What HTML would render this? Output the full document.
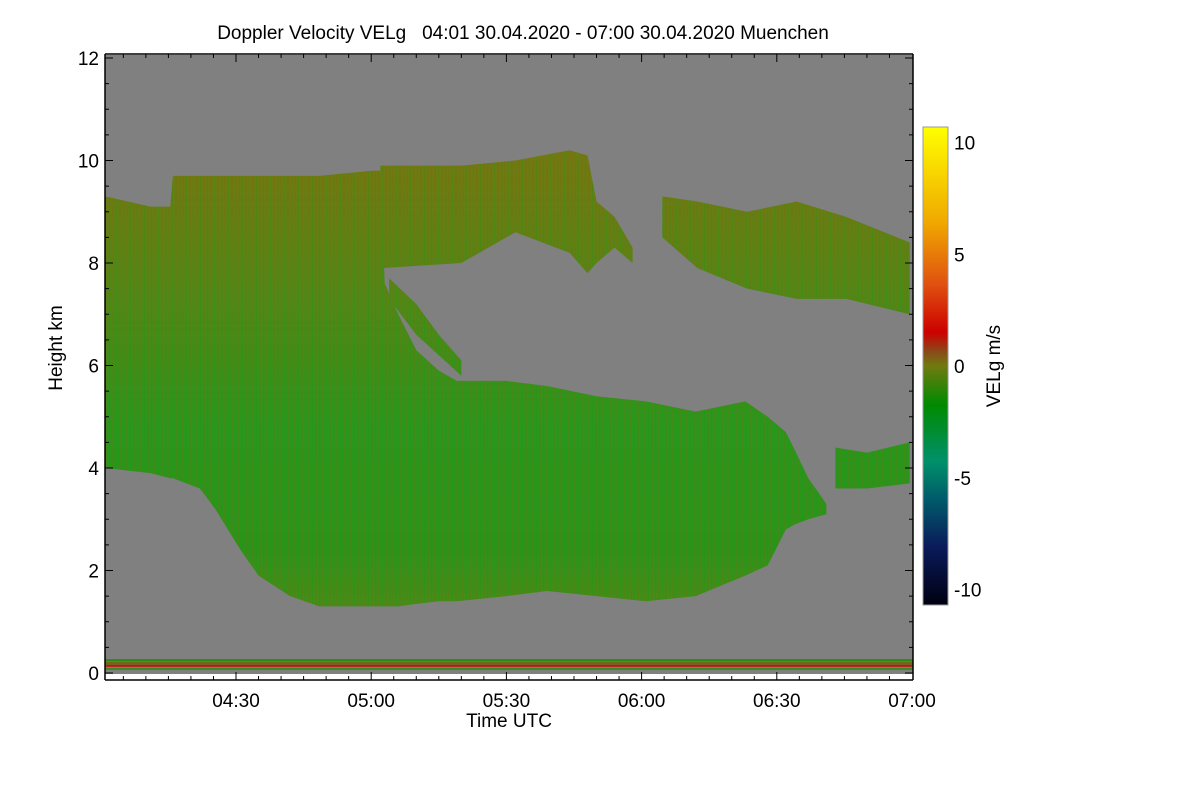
<!DOCTYPE html>
<html><head><meta charset="utf-8"><style>
body{margin:0;background:#fff;width:1200px;height:800px;overflow:hidden;font-family:"Liberation Sans",sans-serif}
svg text{font-family:"Liberation Sans",sans-serif}
</style></head><body>
<svg id="chart" width="1200" height="800" viewBox="0 0 1200 800" xmlns="http://www.w3.org/2000/svg">
<defs>
<linearGradient id="cloudGrad" gradientUnits="userSpaceOnUse" x1="0" y1="55" x2="0" y2="673">
<stop offset="0" stop-color="#7a7414"/>
<stop offset="0.2" stop-color="#6e7a12"/>
<stop offset="0.4" stop-color="#4f8816"/>
<stop offset="0.6" stop-color="#2a961c"/>
<stop offset="0.8" stop-color="#2c931a"/>
<stop offset="0.9" stop-color="#488c18"/>
<stop offset="1" stop-color="#5a8416"/>
</linearGradient>
<pattern id="stripes" patternUnits="userSpaceOnUse" width="7" height="40">
<rect x="0" y="0" width="2" height="40" fill="#7a6a10" opacity="0.25"/>
<rect x="4" y="0" width="1" height="40" fill="#109a10" opacity="0.25"/>
</pattern>
<linearGradient id="cbGrad" x1="0" y1="0" x2="0" y2="1">
<stop offset="0" stop-color="#ffff00"/>
<stop offset="0.2" stop-color="#f0a800"/>
<stop offset="0.33" stop-color="#e05010"/>
<stop offset="0.43" stop-color="#cc0000"/>
<stop offset="0.47" stop-color="#8a4a18"/>
<stop offset="0.5" stop-color="#707a10"/>
<stop offset="0.58" stop-color="#008a00"/>
<stop offset="0.7" stop-color="#00906a"/>
<stop offset="0.78" stop-color="#005a6a"/>
<stop offset="0.88" stop-color="#0a1a5a"/>
<stop offset="1" stop-color="#000010"/>
</linearGradient>
</defs>
<rect x="105" y="55" width="808" height="619" fill="#808080"/>
<g id="layers"></g>
<g id="axes"></g>
<text x="523" y="39" font-size="19" text-anchor="middle" xml:space="preserve">Doppler Velocity VELg   04:01 30.04.2020 - 07:00 30.04.2020 Muenchen</text>
<text x="509" y="727" font-size="19" text-anchor="middle">Time UTC</text>
<text transform="translate(62,348) rotate(-90)" font-size="19" text-anchor="middle">Height km</text>
<rect x="923" y="127" width="25" height="478" fill="url(#cbGrad)" stroke="#999" stroke-width="1"/>
<text transform="translate(1000,366) rotate(-90)" font-size="19" text-anchor="middle">VELg m/s</text>
<g id="cbticks"></g>
</svg>
<script>
const NS="http://www.w3.org/2000/svg";
// time in minutes after 04:00, heights in km
const mainTimes=[1,11,15.4,16,22,25.4,31,35,42,48.5,60,62,63,66,70,75,79,90,99,110,121,132,143,148,152,154,157,161];
const mainTops=[9.3,9.1,9.1,9.7,9.7,9.7,9.7,9.7,9.7,9.7,9.8,9.8,7.6,7.0,6.3,5.9,5.7,5.7,5.6,5.4,5.3,5.1,5.3,5.0,4.7,4.35,3.8,3.3];
const mainBases=[4.0,3.9,3.8,3.8,3.6,3.2,2.4,1.9,1.5,1.3,1.3,1.3,1.3,1.3,1.35,1.4,1.4,1.5,1.6,1.5,1.4,1.5,1.9,2.1,2.8,2.9,3.0,3.1];
const upperTimes=[62,80,92,104,108,110,114,118];
const upperTops=[9.9,9.9,10.0,10.2,10.1,9.2,8.9,8.3];
const upperBases=[7.9,8.0,8.6,8.2,7.8,8.0,8.3,8.0];
const fingerTimes=[64,70,75,80];
const fingerTops=[7.7,7.2,6.6,6.1];
const fingerBases=[7.3,6.6,6.2,5.8];
const rightTimes=[124.6,132.4,143.4,154.4,165.4,179.5];
const rightTops=[9.3,9.2,9.0,9.2,8.9,8.4];
const rightBases=[8.5,7.9,7.5,7.3,7.3,7.0];
const lowTimes=[163,170,179.5];
const lowTops=[4.4,4.3,4.5];
const lowBases=[3.6,3.6,3.7];
const yTicks=[0,2,4,6,8,10,12];
const xTickMins=[30,60,90,120,150,180];
const xTickLabels=["04:30","05:00","05:30","06:00","06:30","07:00"];
const cbTicks=[10,5,0,-5,-10];

const X=t=>236+(t-30)*676/150;
const Y=h=>673-h*51.25;
const CB=v=>366-v*22.35;

function layer(name,ts,tops,bases){
  let d="M"+X(ts[0])+","+Y(tops[0]);
  for(let i=1;i<ts.length;i++) d+=" L"+X(ts[i])+","+Y(tops[i]);
  for(let i=ts.length-1;i>=0;i--) d+=" L"+X(ts[i])+","+Y(bases[i]);
  d+=" Z";
  const g=document.getElementById("layers");
  const p=document.createElementNS(NS,"path");
  p.setAttribute("d",d);p.setAttribute("fill","url(#cloudGrad)");
  
  
  g.appendChild(p);
  const s=document.createElementNS(NS,"path");
  s.setAttribute("d",d);s.setAttribute("fill","url(#stripes)");
  
  
  g.appendChild(s);
}
layer("main-cloud",mainTimes,mainTops,mainBases);
layer("upper-cloud",upperTimes,upperTops,upperBases);
layer("cloud-finger",fingerTimes,fingerTops,fingerBases);
layer("right-cloud",rightTimes,rightTops,rightBases);
layer("low-right-cloud",lowTimes,lowTops,lowBases);

const L=document.getElementById("layers");
function rect(name,x,y,w,h,c){const r=document.createElementNS(NS,"rect");r.setAttribute("x",x);r.setAttribute("y",y);r.setAttribute("width",w);r.setAttribute("height",h);r.setAttribute("fill",c);


L.appendChild(r);}
rect("ground-green-line",105,Y(0.27),808,2,"#2a8a10");
rect("ground-olive-band",105,Y(0.22),808,3,"#6a6a18");
rect("ground-red-line",105,Y(0.16),808,2,"#cc1010");
rect("ground-green-line2",105,Y(0.1),808,2,"#3a8a20");
rect("bottom-white-strip",105,674,808,6,"#ffffff");

const A=document.getElementById("axes");
function line(name,x1,y1,x2,y2,w){const l=document.createElementNS(NS,"line");l.setAttribute("x1",x1);l.setAttribute("y1",y1);l.setAttribute("x2",x2);l.setAttribute("y2",y2);l.setAttribute("stroke","#000");l.setAttribute("stroke-width",w||1);


A.appendChild(l);}
function text(name,x,y,s,anchor,size){const t=document.createElementNS(NS,"text");t.setAttribute("x",x);t.setAttribute("y",y);t.setAttribute("font-size",size||18);t.setAttribute("text-anchor",anchor);t.textContent=s;


A.appendChild(t);}
line("x-axis-line",105,680,913,680,1.5);
line("top-axis-line",105,54,913,54,1.5);
line("y-axis-line",105,54,105,680,1.5);
line("right-axis-line",913,54,913,680,1.5);
for(let h=0;h<=12;h+=0.5){const big=(h%2===0);line("y-tick",105,Y(h),105+(big?8:4),Y(h));line("y-tick-right",913,Y(h),913-(big?8:4),Y(h));}
yTicks.forEach(h=>text("y-tick-label",99,Y(h)+7,String(h),"end",19));
for(let m=5;m<180;m+=5){const big=(m%30===0);line("x-tick",X(m),680,X(m),680-(big?8:4));line("x-tick-top",X(m),54,X(m),54+(big?8:4));}
xTickMins.forEach((m,i)=>text("x-tick-label",X(m),707,xTickLabels[i],"middle",19));
cbTicks.forEach(v=>{text("colorbar-tick-label",954,CB(v)+7,String(v),"start",19);});
for(let v=-10;v<=10;v+=2.5){line("colorbar-tick",948,CB(v),944,CB(v));}
</script>
</body></html>
